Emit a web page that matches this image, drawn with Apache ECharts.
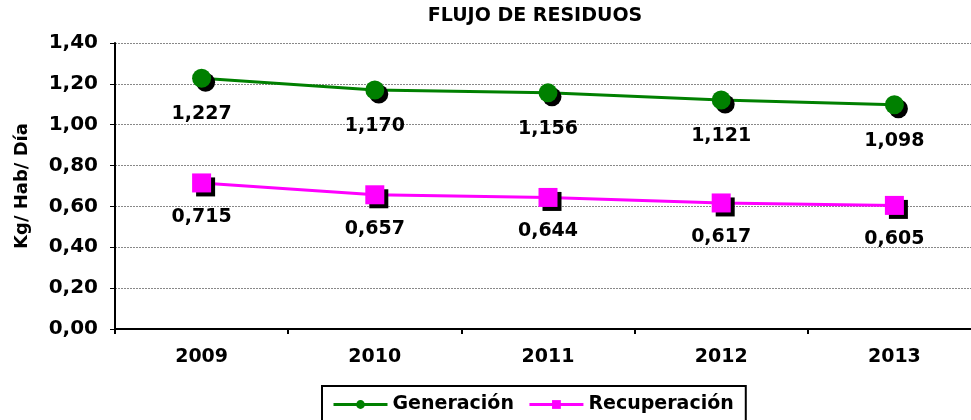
<!DOCTYPE html>
<html>
<head>
<meta charset="utf-8">
<script src="https://cdn.jsdelivr.net/npm/echarts@6/dist/echarts.min.js"></script>
<style>
  html, body { margin: 0; padding: 0; background: #fff; }
  #main { width: 971px; height: 420px; }
</style>
</head>
<body>
<div id="main"></div>
<script>
var years = ['2009', '2010', '2011', '2012', '2013'];
var generacion = [1.227, 1.170, 1.156, 1.121, 1.098];
var recuperacion = [0.715, 0.657, 0.644, 0.617, 0.605];

var fuente = 'DejaVu Sans';

function coma(v, d) {
	return v.toFixed(d).replace('.', ',');
}

var option = {
	animation: false,
	title: {
		text: 'FLUJO DE RESIDUOS',
		left: 530, top: 2,
		textAlign: 'center',
		textStyle: { fontFamily: fuente, fontSize: 19, fontWeight: 'bold', color: '#000' }
	},
	legend: {
		top: 386, left: 322,
		itemWidth: 54, itemHeight: 11,
		itemGap: 14,
		padding: [9, 12, 10, 10],
		borderColor: '#000', borderWidth: 2,
		lineStyle: { width: 3 },
		textStyle: { fontFamily: fuente, fontSize: 19, fontWeight: 'bold', color: '#000' },
		data: ['Generación', 'Recuperación']
	},
	grid: { left: 115, width: 866, top: 43, bottom: 91, outerBoundsMode: 'none' },
	xAxis: {
		type: 'category',
		data: years,
		axisLine: { lineStyle: { color: '#000', width: 2 } },
		axisTick: { show: true, length: 5, lineStyle: { color: '#000', width: 2 } },
		axisLabel: { margin: 19, fontFamily: fuente, fontSize: 19, fontWeight: 'bold', color: '#000' }
	},
	yAxis: {
		type: 'value',
		min: 0, max: 1.4, interval: 0.2,
		name: 'Kg/ Hab/ Día',
		nameLocation: 'middle',
		nameGap: 84,
		nameTextStyle: { fontFamily: fuente, fontSize: 18, fontWeight: 'bold', color: '#000' },
		axisLine: { show: true, lineStyle: { color: '#000', width: 2 } },
		axisTick: { show: true, length: 5, lineStyle: { color: '#000', width: 1 } },
		axisLabel: {
			margin: 17, fontFamily: fuente, fontSize: 20, fontWeight: 'bold', color: '#000',
			formatter: function (v) { return coma(v, 2); }
		},
		splitLine: { lineStyle: { color: '#888', type: [2, 1], width: 1 } }
	},
	series: [
		{
			name: 'Generación',
			type: 'line',
			data: generacion,
			symbol: 'circle', symbolSize: 19,
			lineStyle: { color: '#008000', width: 3 },
			itemStyle: { color: '#008000', shadowColor: '#000', shadowOffsetX: 4, shadowOffsetY: 4, shadowBlur: 0 },
			label: {
				show: true, position: 'bottom', distance: 17,
				fontFamily: fuente, fontSize: 19, fontWeight: 'bold', color: '#000',
				formatter: function (p) { return coma(p.value, 3); }
			}
		},
		{
			name: 'Recuperación',
			type: 'line',
			data: recuperacion,
			symbol: 'rect', symbolSize: 19,
			lineStyle: { color: '#ff00ff', width: 3 },
			itemStyle: { color: '#ff00ff', shadowColor: '#000', shadowOffsetX: 4, shadowOffsetY: 4, shadowBlur: 0 },
			label: {
				show: true, position: 'bottom', distance: 15,
				fontFamily: fuente, fontSize: 19, fontWeight: 'bold', color: '#000',
				formatter: function (p) { return coma(p.value, 3); }
			}
		}
	]
};

var myChart = echarts.init(document.getElementById('main'));
myChart.setOption(option);
</script>
</body>
</html>
